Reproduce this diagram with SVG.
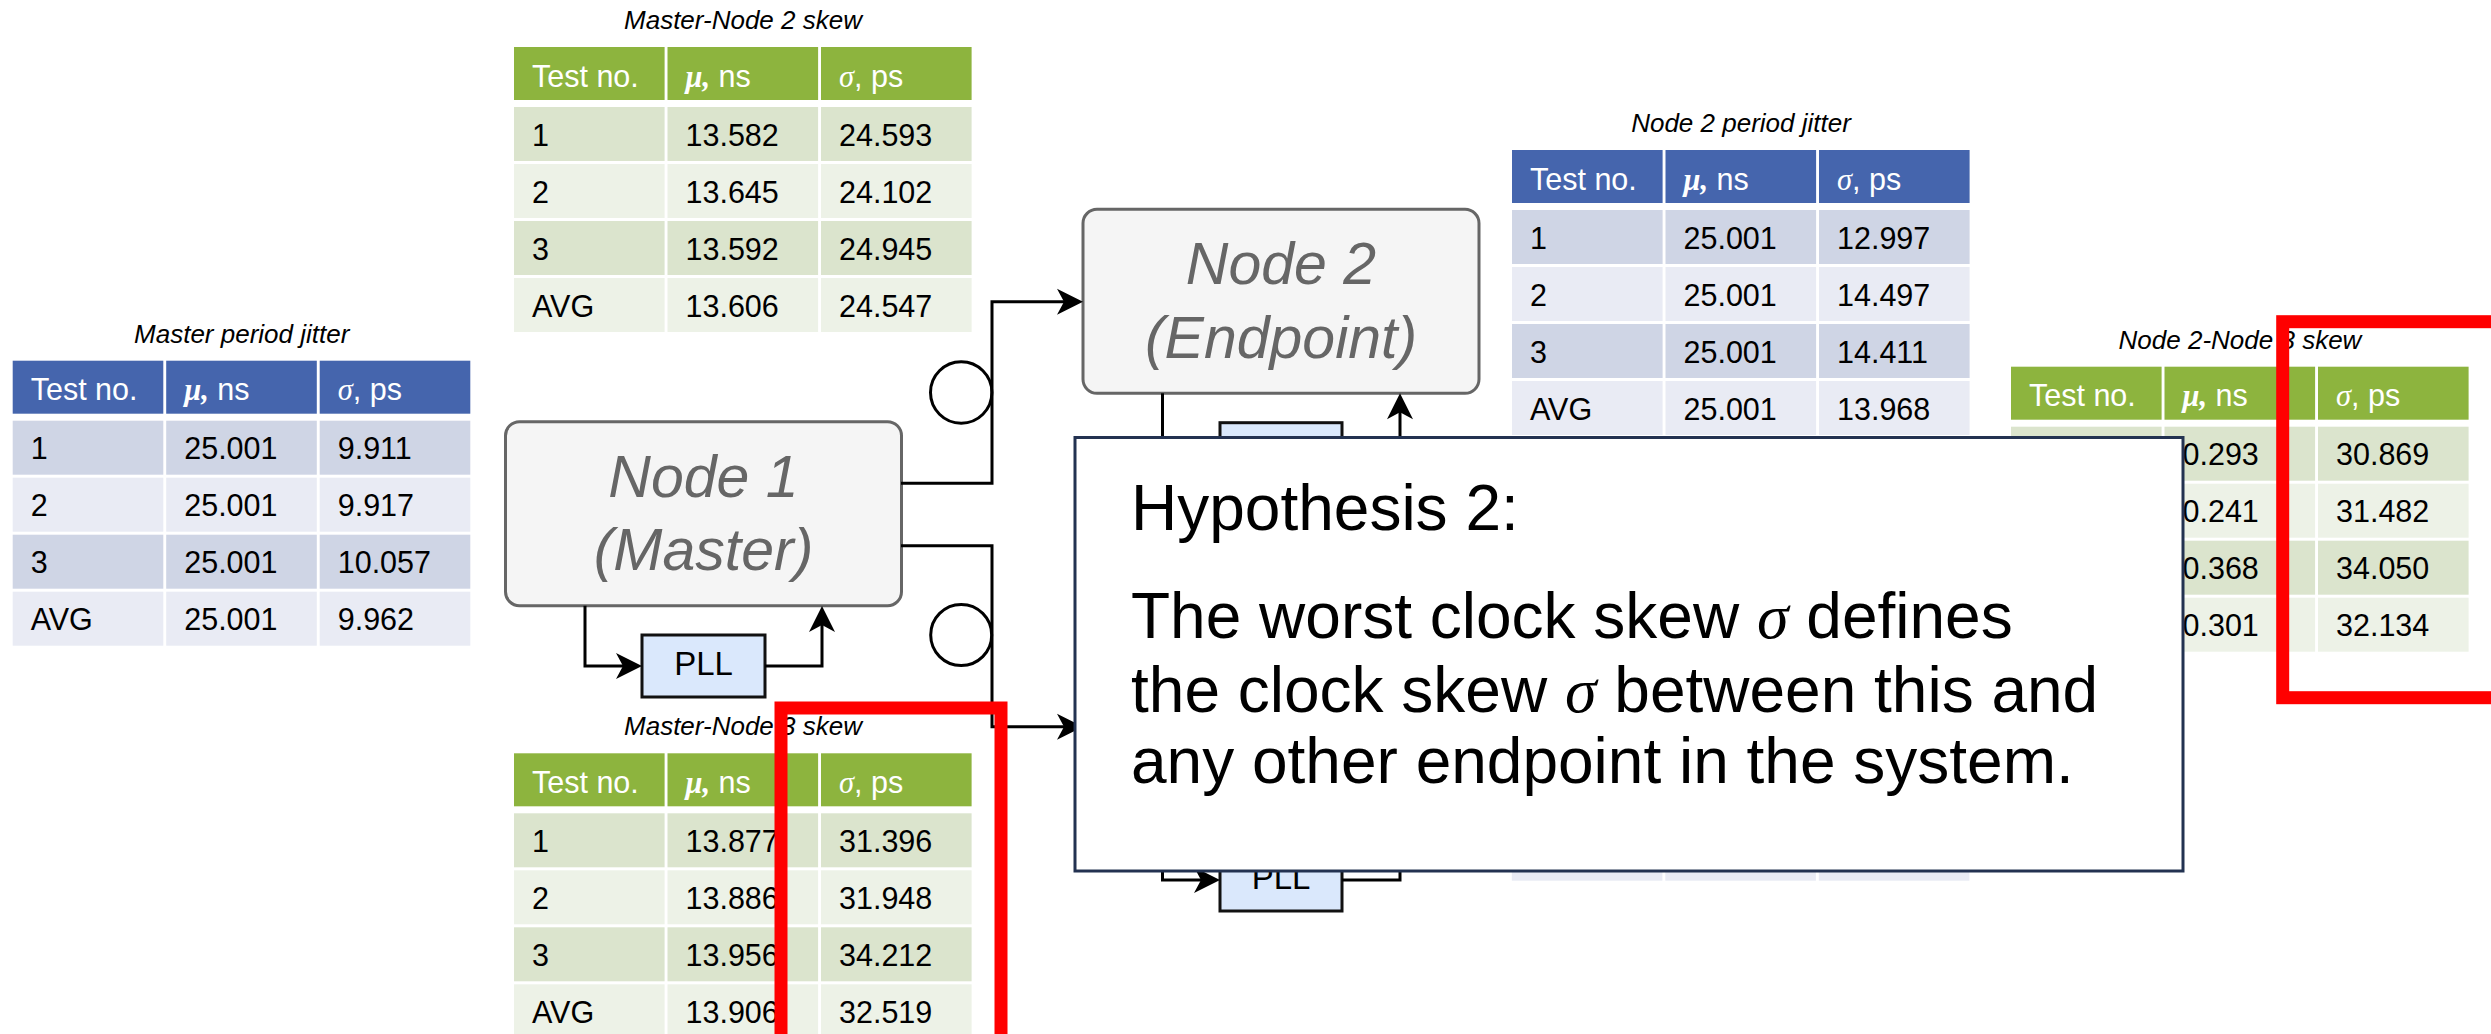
<svg xmlns="http://www.w3.org/2000/svg" width="2491" height="1034" viewBox="0 0 2491 1034">
<style>
.bh{fill:#4565AD}.b1{fill:#CFD5E5}.b2{fill:#E9EBF4}
.gh{fill:#8DB43E}.g1{fill:#DBE4CD}.g2{fill:#EDF2E7}
.t{font-family:"Liberation Sans",Arial,sans-serif;font-size:30.5px;fill:#000}
.h{font-family:"Liberation Sans",Arial,sans-serif;font-size:30.5px;fill:#fff}
.sym{font-family:"Liberation Serif","Times New Roman",serif;font-style:italic}
.ttl{font-family:"Liberation Sans",Arial,sans-serif;font-size:26px;font-style:italic;fill:#000;text-anchor:middle}
.node{fill:#F5F5F5;stroke:#666;stroke-width:3}
.ntxt{font-family:"Liberation Sans",Arial,sans-serif;font-size:59px;font-style:italic;fill:#666;text-anchor:middle}
.pll{fill:#DAE8FC;stroke:#111;stroke-width:3}
.ptxt{font-family:"Liberation Sans",Arial,sans-serif;font-size:33px;fill:#000;text-anchor:middle}
.ln{fill:none;stroke:#000;stroke-width:3}
.red{fill:none;stroke:#FF0000;stroke-width:13}
.hyp{font-family:"Liberation Sans",Arial,sans-serif;font-size:64px;fill:#000}
</style>
<defs>
<marker id="arr" markerUnits="userSpaceOnUse" markerWidth="32" markerHeight="32" viewBox="-18 -16 32 32" refX="0" refY="0" orient="auto">
<path d="M10,0 L-16,-13 L-9,0 L-16,13 Z" fill="#000"/>
</marker>
</defs>

<g id="table-master-jitter" transform="translate(12.7,360.7)">
<text class="ttl" x="229" y="-18">Master period jitter</text>
<rect class="bh" x="0" y="0" width="150.6" height="53"/><rect class="bh" x="153.5" y="0" width="150.6" height="53"/><rect class="bh" x="307" y="0" width="150.6" height="53"/>
<rect class="b1" x="0" y="60" width="150.6" height="54"/><rect class="b1" x="153.5" y="60" width="150.6" height="54"/><rect class="b1" x="307" y="60" width="150.6" height="54"/>
<rect class="b2" x="0" y="117" width="150.6" height="54"/><rect class="b2" x="153.5" y="117" width="150.6" height="54"/><rect class="b2" x="307" y="117" width="150.6" height="54"/>
<rect class="b1" x="0" y="174" width="150.6" height="54"/><rect class="b1" x="153.5" y="174" width="150.6" height="54"/><rect class="b1" x="307" y="174" width="150.6" height="54"/>
<rect class="b2" x="0" y="231" width="150.6" height="54"/><rect class="b2" x="153.5" y="231" width="150.6" height="54"/><rect class="b2" x="307" y="231" width="150.6" height="54"/>
<text class="h" x="18" y="39.5">Test no.</text>
<text class="h" x="171.5" y="39.5"><tspan class="sym" font-weight="bold">μ,</tspan> ns</text>
<text class="h" x="325" y="39.5"><tspan class="sym">σ</tspan>, ps</text>
<text class="t" x="18" y="98.5">1</text><text class="t" x="171.5" y="98.5">25.001</text><text class="t" x="325" y="98.5">9.911</text>
<text class="t" x="18" y="155.5">2</text><text class="t" x="171.5" y="155.5">25.001</text><text class="t" x="325" y="155.5">9.917</text>
<text class="t" x="18" y="212.5">3</text><text class="t" x="171.5" y="212.5">25.001</text><text class="t" x="325" y="212.5">10.057</text>
<text class="t" x="18" y="269.5">AVG</text><text class="t" x="171.5" y="269.5">25.001</text><text class="t" x="325" y="269.5">9.962</text>
</g>

<g id="table-master-node2" transform="translate(514,47)">
<text class="ttl" x="229" y="-18">Master-Node 2 skew</text>
<rect class="gh" x="0" y="0" width="150.6" height="53"/><rect class="gh" x="153.5" y="0" width="150.6" height="53"/><rect class="gh" x="307" y="0" width="150.6" height="53"/>
<rect class="g1" x="0" y="60" width="150.6" height="54"/><rect class="g1" x="153.5" y="60" width="150.6" height="54"/><rect class="g1" x="307" y="60" width="150.6" height="54"/>
<rect class="g2" x="0" y="117" width="150.6" height="54"/><rect class="g2" x="153.5" y="117" width="150.6" height="54"/><rect class="g2" x="307" y="117" width="150.6" height="54"/>
<rect class="g1" x="0" y="174" width="150.6" height="54"/><rect class="g1" x="153.5" y="174" width="150.6" height="54"/><rect class="g1" x="307" y="174" width="150.6" height="54"/>
<rect class="g2" x="0" y="231" width="150.6" height="54"/><rect class="g2" x="153.5" y="231" width="150.6" height="54"/><rect class="g2" x="307" y="231" width="150.6" height="54"/>
<text class="h" x="18" y="39.5">Test no.</text>
<text class="h" x="171.5" y="39.5"><tspan class="sym" font-weight="bold">μ,</tspan> ns</text>
<text class="h" x="325" y="39.5"><tspan class="sym">σ</tspan>, ps</text>
<text class="t" x="18" y="98.5">1</text><text class="t" x="171.5" y="98.5">13.582</text><text class="t" x="325" y="98.5">24.593</text>
<text class="t" x="18" y="155.5">2</text><text class="t" x="171.5" y="155.5">13.645</text><text class="t" x="325" y="155.5">24.102</text>
<text class="t" x="18" y="212.5">3</text><text class="t" x="171.5" y="212.5">13.592</text><text class="t" x="325" y="212.5">24.945</text>
<text class="t" x="18" y="269.5">AVG</text><text class="t" x="171.5" y="269.5">13.606</text><text class="t" x="325" y="269.5">24.547</text>
</g>

<g id="table-master-node3" transform="translate(514,753.3)">
<text class="ttl" x="229" y="-18">Master-Node 3 skew</text>
<rect class="gh" x="0" y="0" width="150.6" height="53"/><rect class="gh" x="153.5" y="0" width="150.6" height="53"/><rect class="gh" x="307" y="0" width="150.6" height="53"/>
<rect class="g1" x="0" y="60" width="150.6" height="54"/><rect class="g1" x="153.5" y="60" width="150.6" height="54"/><rect class="g1" x="307" y="60" width="150.6" height="54"/>
<rect class="g2" x="0" y="117" width="150.6" height="54"/><rect class="g2" x="153.5" y="117" width="150.6" height="54"/><rect class="g2" x="307" y="117" width="150.6" height="54"/>
<rect class="g1" x="0" y="174" width="150.6" height="54"/><rect class="g1" x="153.5" y="174" width="150.6" height="54"/><rect class="g1" x="307" y="174" width="150.6" height="54"/>
<rect class="g2" x="0" y="231" width="150.6" height="54"/><rect class="g2" x="153.5" y="231" width="150.6" height="54"/><rect class="g2" x="307" y="231" width="150.6" height="54"/>
<text class="h" x="18" y="39.5">Test no.</text>
<text class="h" x="171.5" y="39.5"><tspan class="sym" font-weight="bold">μ,</tspan> ns</text>
<text class="h" x="325" y="39.5"><tspan class="sym">σ</tspan>, ps</text>
<text class="t" x="18" y="98.5">1</text><text class="t" x="171.5" y="98.5">13.877</text><text class="t" x="325" y="98.5">31.396</text>
<text class="t" x="18" y="155.5">2</text><text class="t" x="171.5" y="155.5">13.886</text><text class="t" x="325" y="155.5">31.948</text>
<text class="t" x="18" y="212.5">3</text><text class="t" x="171.5" y="212.5">13.956</text><text class="t" x="325" y="212.5">34.212</text>
<text class="t" x="18" y="269.5">AVG</text><text class="t" x="171.5" y="269.5">13.906</text><text class="t" x="325" y="269.5">32.519</text>
</g>

<g id="table-node2-jitter" transform="translate(1512,150)">
<text class="ttl" x="229" y="-18">Node 2 period jitter</text>
<rect class="bh" x="0" y="0" width="150.6" height="53"/><rect class="bh" x="153.5" y="0" width="150.6" height="53"/><rect class="bh" x="307" y="0" width="150.6" height="53"/>
<rect class="b1" x="0" y="60" width="150.6" height="54"/><rect class="b1" x="153.5" y="60" width="150.6" height="54"/><rect class="b1" x="307" y="60" width="150.6" height="54"/>
<rect class="b2" x="0" y="117" width="150.6" height="54"/><rect class="b2" x="153.5" y="117" width="150.6" height="54"/><rect class="b2" x="307" y="117" width="150.6" height="54"/>
<rect class="b1" x="0" y="174" width="150.6" height="54"/><rect class="b1" x="153.5" y="174" width="150.6" height="54"/><rect class="b1" x="307" y="174" width="150.6" height="54"/>
<rect class="b2" x="0" y="231" width="150.6" height="54"/><rect class="b2" x="153.5" y="231" width="150.6" height="54"/><rect class="b2" x="307" y="231" width="150.6" height="54"/>
<text class="h" x="18" y="39.5">Test no.</text>
<text class="h" x="171.5" y="39.5"><tspan class="sym" font-weight="bold">μ,</tspan> ns</text>
<text class="h" x="325" y="39.5"><tspan class="sym">σ</tspan>, ps</text>
<text class="t" x="18" y="98.5">1</text><text class="t" x="171.5" y="98.5">25.001</text><text class="t" x="325" y="98.5">12.997</text>
<text class="t" x="18" y="155.5">2</text><text class="t" x="171.5" y="155.5">25.001</text><text class="t" x="325" y="155.5">14.497</text>
<text class="t" x="18" y="212.5">3</text><text class="t" x="171.5" y="212.5">25.001</text><text class="t" x="325" y="212.5">14.411</text>
<text class="t" x="18" y="269.5">AVG</text><text class="t" x="171.5" y="269.5">25.001</text><text class="t" x="325" y="269.5">13.968</text>
</g>

<g id="table-node3-jitter-hidden" transform="translate(1511.8,826.7)">
<rect class="b2" x="0" y="0" width="150.6" height="54"/><rect class="b2" x="153.5" y="0" width="150.6" height="54"/><rect class="b2" x="307" y="0" width="150.6" height="54"/>
</g>

<g id="table-node2-node3" transform="translate(2011,366.7)">
<text class="ttl" x="229" y="-18">Node 2-Node 3 skew</text>
<rect class="gh" x="0" y="0" width="150.6" height="53"/><rect class="gh" x="153.5" y="0" width="150.6" height="53"/><rect class="gh" x="307" y="0" width="150.6" height="53"/>
<rect class="g1" x="0" y="60" width="150.6" height="54"/><rect class="g1" x="153.5" y="60" width="150.6" height="54"/><rect class="g1" x="307" y="60" width="150.6" height="54"/>
<rect class="g2" x="0" y="117" width="150.6" height="54"/><rect class="g2" x="153.5" y="117" width="150.6" height="54"/><rect class="g2" x="307" y="117" width="150.6" height="54"/>
<rect class="g1" x="0" y="174" width="150.6" height="54"/><rect class="g1" x="153.5" y="174" width="150.6" height="54"/><rect class="g1" x="307" y="174" width="150.6" height="54"/>
<rect class="g2" x="0" y="231" width="150.6" height="54"/><rect class="g2" x="153.5" y="231" width="150.6" height="54"/><rect class="g2" x="307" y="231" width="150.6" height="54"/>
<text class="h" x="18" y="39.5">Test no.</text>
<text class="h" x="171.5" y="39.5"><tspan class="sym" font-weight="bold">μ,</tspan> ns</text>
<text class="h" x="325" y="39.5"><tspan class="sym">σ</tspan>, ps</text>
<text class="t" x="171.5" y="98.5">0.293</text><text class="t" x="325" y="98.5">30.869</text>
<text class="t" x="171.5" y="155.5">0.241</text><text class="t" x="325" y="155.5">31.482</text>
<text class="t" x="171.5" y="212.5">0.368</text><text class="t" x="325" y="212.5">34.050</text>
<text class="t" x="171.5" y="269.5">0.301</text><text class="t" x="325" y="269.5">32.134</text>
</g>

<g id="node1">
<rect class="node" x="505.5" y="421.7" width="396" height="184" rx="14"/>
<text class="ntxt" x="703.5" y="496.7">Node 1</text>
<text class="ntxt" x="703.5" y="570">(Master)</text>
</g>
<g id="node2">
<rect class="node" x="1083" y="209.3" width="396" height="184" rx="14"/>
<text class="ntxt" x="1281" y="284">Node 2</text>
<text class="ntxt" x="1281" y="358.3">(Endpoint)</text>
</g>
<g id="pll1">
<rect class="pll" x="642" y="635" width="123" height="62"/>
<text class="ptxt" x="703.5" y="675">PLL</text>
</g>
<g id="pll2">
<rect class="pll" x="1220" y="422.7" width="122" height="62"/>
</g>
<g id="pll3">
<rect class="pll" x="1220" y="849" width="122" height="62"/>
<text class="ptxt" x="1281" y="889">PLL</text>
</g>
<g id="circle1"><circle cx="961.2" cy="392.5" r="30.7" fill="#fff" stroke="#000" stroke-width="3"/></g>
<g id="circle2"><circle cx="961.2" cy="635" r="30.5" fill="#fff" stroke="#000" stroke-width="3"/></g>

<g id="connectors">
<path class="ln" d="M901,483.3 H992 V301.7 H1073" marker-end="url(#arr)"/>
<path class="ln" d="M901,545.7 H992 V726.7 H1073" marker-end="url(#arr)"/>
<path class="ln" d="M585,605.7 V666 H632" marker-end="url(#arr)"/>
<path class="ln" d="M765,666 H822 V616" marker-end="url(#arr)"/>
<path class="ln" d="M1162.5,393.3 V460"/>
<path class="ln" d="M1400,460 V403.3" marker-end="url(#arr)"/>
<path class="ln" d="M1162.5,840 V880 H1210" marker-end="url(#arr)"/>
<path class="ln" d="M1342,880 H1400 V840"/>
</g>

<g id="hypothesis">
<rect x="1075" y="437.5" width="1108" height="433.5" fill="#fff" stroke="#233251" stroke-width="3"/>
<text class="hyp" x="1131" y="530">Hypothesis 2:</text>
<text class="hyp" x="1131" y="638.3">The worst clock skew <tspan class="sym">σ</tspan> defines</text>
<text class="hyp" x="1131" y="711.7">the clock skew <tspan class="sym">σ</tspan> between this and</text>
<text class="hyp" x="1131" y="783.3">any other endpoint in the system.</text>
</g>

<g id="highlights">
<rect class="red" x="781" y="708" width="220" height="360"/>
<rect class="red" x="2282.7" y="321.7" width="260" height="376"/>
</g>
</svg>
